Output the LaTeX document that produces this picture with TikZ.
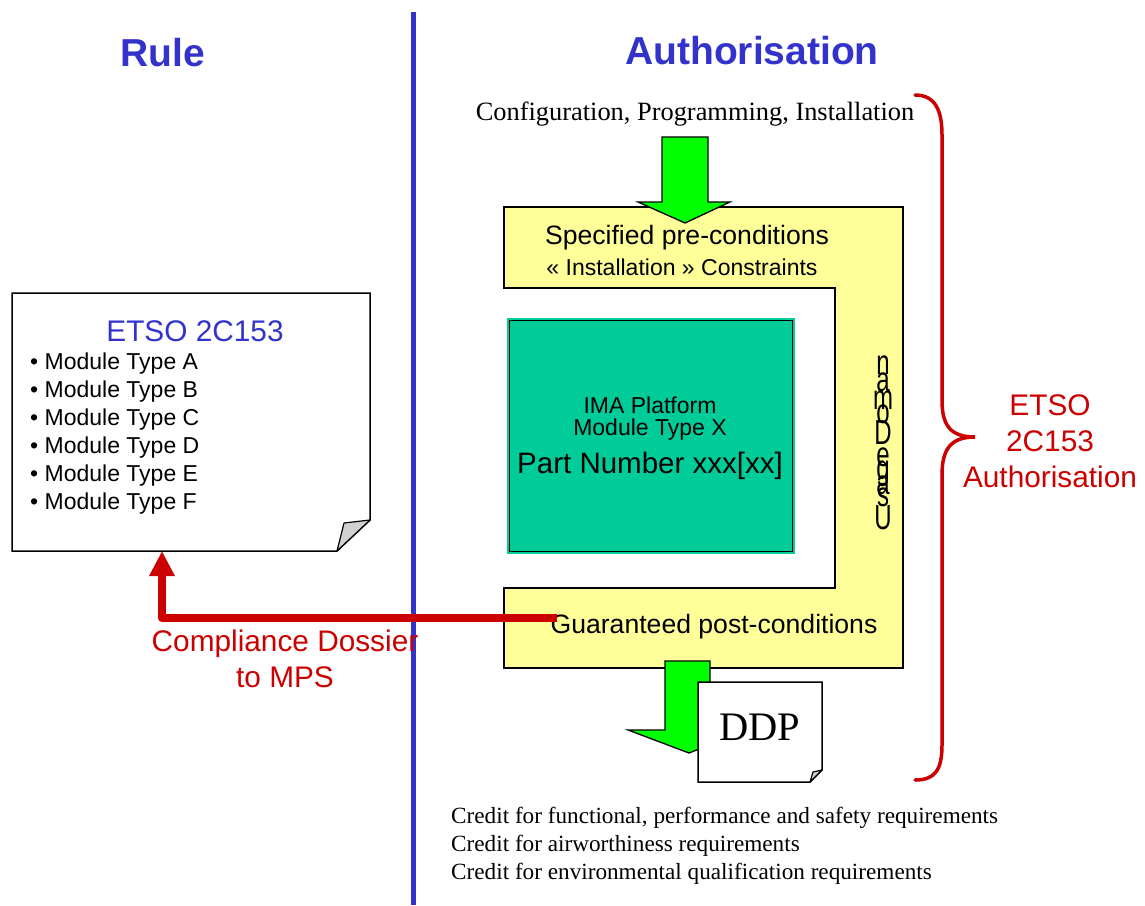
\documentclass[tikz,border=0pt]{standalone}
\usepackage{fontspec}
\setmainfont{Liberation Serif}
\setsansfont{Liberation Sans}
\usetikzlibrary{arrows.meta}
\definecolor{tblue}{HTML}{3333CC}
\definecolor{tred}{HTML}{CC0000}
\definecolor{tyellow}{HTML}{FFFF99}
\definecolor{tteal}{HTML}{00CC99}
\definecolor{tgreen}{HTML}{00FF00}
\newcommand{\fs}[1]{\fontsize{#1pt}{\the\dimexpr #1pt*6/5\relax}\selectfont}
\begin{document}
\begin{tikzpicture}[x=1pt,y=-1pt,
  lbl/.style={inner sep=0pt, font=\sffamily\fs{26.6}},
  serif/.style={inner sep=0pt, font=\rmfamily\fs{26.4}},
  title/.style={inner sep=0pt, text=tblue, font=\sffamily\bfseries\fs{39}},
  redlbl/.style={inner sep=0pt, text=tred, font=\sffamily\fs{29.8}, align=center},
  bigarrow/.style={fill=tgreen, draw=black, line width=1.3pt, line join=miter},
  docshape/.style={fill=white, draw=black, line width=1.5pt, line join=miter},
  fold/.style={fill=black!18, draw=black, line width=1.2pt, line join=round},
  vlet/.style={inner sep=0pt, font=\sffamily\fs{24}, yscale=1.45},
  bullet/.style={inner sep=0pt, anchor=west, font=\sffamily\fs{23}},
  credit/.style={inner sep=0pt, anchor=west, font=\rmfamily\fs{23.2}}
]
\useasboundingbox (0,0) rectangle (1145,905);
\fill[white] (0,0) rectangle (1145,905);

% divider
\draw[tblue, line width=5pt] (413,12) -- (413,905);

% titles
\node[title] (rule) at (163,53) {Rule};
\node[title] (auth) at (752,51) {Authorisation};

% yellow usage domain shape
\path[fill=tyellow, draw=black, line width=1.5pt, line join=miter]
  (504,207) -- (903,207) -- (903,668) -- (504,668) -- (504,588) -- (835,588)
  -- (835,288) -- (504,288) -- cycle;

% config text
\node[serif] (config) at (695,114) {Configuration, Programming, Installation};

% top green arrow
\draw[bigarrow] (662,137) -- (708,137) -- (708,202) -- (730,202) -- (685,223)
  -- (638,202) -- (662,202) -- cycle;

\node[lbl] (pre) at (687,238) {Specified pre-conditions};
\node[lbl, font=\sffamily\fs{23}] (constr) at (682,267) {« Installation » Constraints};
\node[lbl] (post) at (714,627) {Guaranteed post-conditions};

% teal module box
\node[fill=tteal, draw=tteal, line width=1pt, minimum width=287pt, minimum height=235pt,
  inner sep=0pt] (imaout) at (651,436) {};
\node[fill=tteal, draw=black, line width=1.6pt, minimum width=283pt, minimum height=231pt,
  inner sep=0pt] (ima) at (651,436) {};
\node[lbl, font=\sffamily\fs{23}] (imat1) at (650,405) {IMA Platform};
\node[lbl, font=\sffamily\fs{23}] (imat2) at (650,430) {Module Type X};
\node[lbl, font=\sffamily\fs{29.5}] (imat3) at (650,466) {Part Number xxx[xx]};

% vertical letters
\node[vlet] (v1) at (883,365) {n};
\node[vlet] (v2) at (883,382) {a};
\node[vlet] (v3) at (883,400) {m};
\node[vlet] (v4) at (883,414) {o};
\node[vlet] (v5) at (883,433) {D};
\node[vlet] (v6) at (883,457) {e};
\node[vlet] (v7) at (883,474) {g};
\node[vlet] (v8) at (883,485) {a};
\node[vlet] (v9) at (883,497) {s};
\node[vlet] (v10) at (883,518) {U};

% bottom green arrow
\draw[bigarrow] (665,661) -- (710,661) -- (710,730) -- (747,730) -- (689,753)
  -- (628,730) -- (665,730) -- cycle;

% DDP document
\draw[docshape] (698,682) -- (822,682) -- (822,770) -- (810,782) -- (698,782) -- cycle;
\draw[fold] (810,782) -- (813,772) -- (822,770) -- cycle;
\node[inner sep=0pt, font=\rmfamily\fs{40.5}] (ddp) at (760,727) {DDP};

% ETSO document
\draw[docshape] (12,293) -- (370,293) -- (370,520) -- (337,551) -- (12,551) -- cycle;
\draw[fold] (337,551) -- (344,523) -- (370,520) -- cycle;
\node[inner sep=0pt, text=tblue, font=\sffamily\fs{29.8}] (etso) at (195,331) {ETSO 2C153};
\node[bullet] (mA) at (30,364) {• Module Type A};
\node[bullet] (mB) at (30,392) {• Module Type B};
\node[bullet] (mC) at (30,420) {• Module Type C};
\node[bullet] (mD) at (30,448) {• Module Type D};
\node[bullet] (mE) at (30,476) {• Module Type E};
\node[bullet] (mF) at (30,504) {• Module Type F};

% red compliance arrow
\coordinate (cstart) at (557,618);
\coordinate (ccorner) at (162,618);
\coordinate (cend) at (162,551);
\draw[tred, line width=8pt, line join=round,
  -{Triangle[width=24pt,length=25pt]}] (cstart) -- (ccorner) -- (cend);
\node[redlbl] (comp) at (285,659) {Compliance Dossier\\to MPS};

% brace
\draw[tred, line width=3.5pt, line cap=round]
  (915,95) .. controls (935,95) and (942,110) .. (942,135) -- (942,400)
  .. controls (942,425) and (950,437) .. (975,437)
  .. controls (950,437) and (942,450) .. (942,475) -- (942,745)
  .. controls (942,770) and (935,780) .. (915,780);
\node[redlbl] (etsoauth) at (1050,441) {ETSO\\2C153\\Authorisation};

% credits
\node[credit] (c1) at (451,818) {Credit for functional, performance and safety requirements};
\node[credit] (c2) at (451,846) {Credit for airworthiness requirements};
\node[credit] (c3) at (451,874) {Credit for environmental qualification requirements};
\end{tikzpicture}
\end{document}
